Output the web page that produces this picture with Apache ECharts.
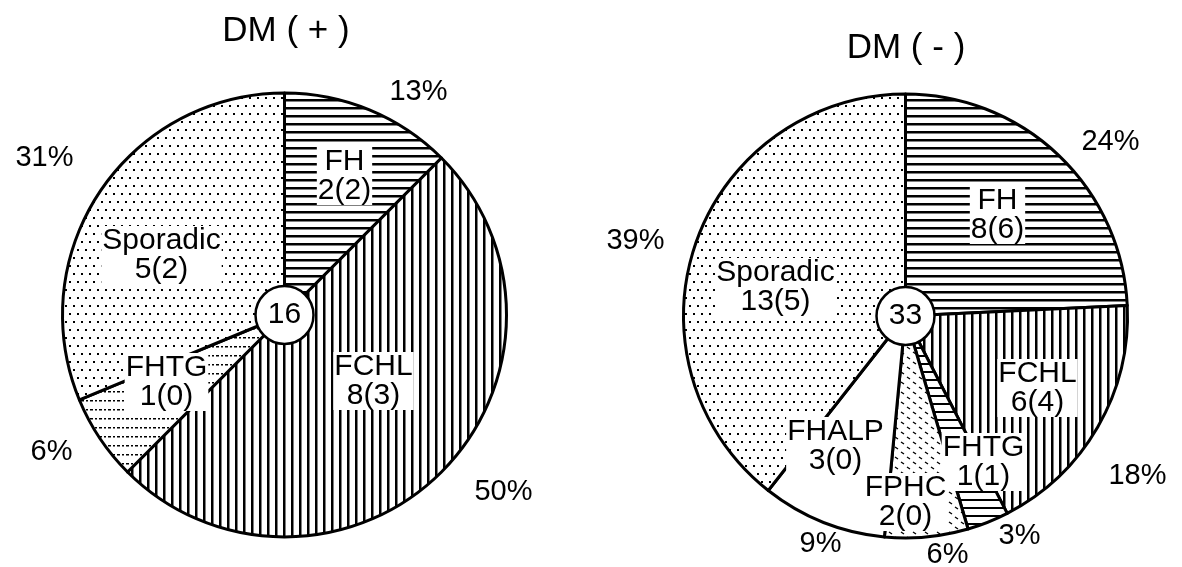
<!DOCTYPE html>
<html>
<head>
<meta charset="utf-8">
<script src="https://cdn.jsdelivr.net/npm/echarts@6/dist/echarts.min.js"></script>
<style>
html, body { margin: 0; padding: 0; background: #fff; }
#chart { width: 1182px; height: 567px; }
</style>
</head>
<body>
<div id="chart"></div>
<script>
// ---------------- DATA ----------------
const titles = ['DM ( + )', 'DM ( - )'];

const catsPlus = ['FH', 'FCHL', 'FHTG', 'Sporadic'];
const countsPlus = [2, 8, 1, 5];
const subPlus = [2, 3, 0, 2];

const catsMinus = ['FH', 'FCHL', 'FHTG', 'FPHC', 'FHALP', 'Sporadic'];
const countsMinus = [8, 6, 1, 2, 3, 13];
const subMinus = [6, 4, 1, 0, 0, 5];

// ---------------- STYLE / LAYOUT ----------------
const FONT = '"Liberation Sans", Arial, Helvetica, sans-serif';
const RADIUS = 222;

function makePattern(w, h, draw) {
  const c = document.createElement('canvas');
  c.width = w; c.height = h;
  const g = c.getContext('2d');
  g.fillStyle = '#fff'; g.fillRect(0, 0, w, h);
  g.fillStyle = '#000'; g.strokeStyle = '#000';
  draw(g);
  return { image: c, repeat: 'repeat' };
}
const PAT = {
  hlines: makePattern(8, 8, g => g.fillRect(0, 3, 8, 2.5)),
  vlines: makePattern(8, 8, g => g.fillRect(3, 0, 2.5, 8)),
  dots: makePattern(8, 16, g => { g.fillRect(1, 1, 2, 2); g.fillRect(5, 9, 2, 2); }),
  dashH: makePattern(9, 9, g => { g.fillRect(0, 4, 3, 1.5); g.fillRect(5, 4, 2, 1.5); }),
  ladder: makePattern(8, 8, g => g.fillRect(0, 3, 8, 2)),
  dashes: makePattern(12, 10, g => {
    g.lineWidth = 1.4; g.beginPath();
    g.moveTo(1, 2); g.lineTo(4, 4); g.moveTo(7, 7); g.lineTo(10, 9);
    g.stroke();
  })
};

const layouts = [
  {
    center: [284.5, 315], title: [286, 31],
    fill: { FH: PAT.hlines, FCHL: PAT.vlines, FHTG: PAT.dashH, Sporadic: PAT.dots },
    inner: { FH: [60, -139], Sporadic: [-123, -60], FHTG: [-118, 67], FCHL: [89, 66] },
    outer: { FH: [134, -223], Sporadic: [-240, -157], FHTG: [-233, 137], FCHL: [219, 177] }
  },
  {
    center: [905.5, 316], title: [906, 48],
    fill: { FH: PAT.hlines, FCHL: PAT.vlines, FHTG: PAT.ladder, FPHC: PAT.dashes, FHALP: '#fff', Sporadic: PAT.dots },
    inner: { FH: [92, -101], Sporadic: [-130, -29], FCHL: [132, 72], FHALP: [-70, 130], FPHC: [0, 186], FHTG: [78, 146] },
    outer: { FH: [205, -174], Sporadic: [-270, -75], FCHL: [232, 160], FHALP: [-85, 228], FPHC: [42, 239], FHTG: [114, 220] }
  }
];

const textBase = { fontFamily: FONT, fontSize: 30, color: '#000' };

const groups = [
  [catsPlus, countsPlus, subPlus],
  [catsMinus, countsMinus, subMinus]
];

const series = [];
groups.forEach(([cats, counts, subs], k) => {
  const L = layouts[k];
  const total = counts.reduce((a, b) => a + b, 0);
  const base = {
    type: 'pie', center: L.center, radius: RADIUS, startAngle: 90, clockwise: true,
    animation: false, silent: true, avoidLabelOverlap: false,
    labelLine: { show: false }, emphasis: { disabled: true }
  };
  const place = (table, cats) => p => {
    const o = table[cats[p.dataIndex]];
    return { x: L.center[0] + o[0], y: L.center[1] + o[1], align: 'center', verticalAlign: 'middle' };
  };
  // slices with inner labels
  series.push(Object.assign({}, base, {
    name: titles[k], z: 2,
    data: cats.map((c, i) => ({ name: c, value: counts[i], itemStyle: { color: L.fill[c] } })),
    itemStyle: { borderColor: '#000', borderWidth: 3 },
    label: Object.assign({}, textBase, {
      show: true, position: 'inside', lineHeight: 29,
      backgroundColor: '#fff', padding: [0, 1],
      formatter: p => p.name + '\n' + p.value + '(' + subs[p.dataIndex] + ')'
    }),
    labelLayout: place(L.inner, cats)
  }));
  // percentage labels outside
  series.push(Object.assign({}, base, {
    name: titles[k] + ' %', z: 3,
    data: cats.map((c, i) => ({ name: c, value: counts[i] })),
    itemStyle: { color: 'rgba(0,0,0,0)', borderWidth: 0 },
    label: Object.assign({}, textBase, {
      show: true, position: 'outside', fontSize: 29,
      formatter: p => Math.round(p.value / total * 100) + '%'
    }),
    labelLayout: place(L.outer, cats)
  }));
  // center total circle
  series.push(Object.assign({}, base, {
    name: titles[k] + ' n', z: 4, radius: 29,
    data: [{ name: 'n', value: total }],
    itemStyle: { color: '#fff', borderColor: '#000', borderWidth: 2.5 },
    label: Object.assign({}, textBase, { show: true, position: 'center', formatter: String(total) })
  }));
});

const chart = echarts.init(document.getElementById('chart'), null, { renderer: 'canvas' });
chart.setOption({
  backgroundColor: '#fff',
  animation: false,
  title: titles.map((t, k) => ({
    text: t, left: layouts[k].title[0], top: layouts[k].title[1],
    textAlign: 'center', textVerticalAlign: 'middle', padding: 0,
    textStyle: { fontFamily: FONT, fontSize: 35, fontWeight: 'normal', color: '#000' }
  })),
  series: series
});
</script>
</body>
</html>
